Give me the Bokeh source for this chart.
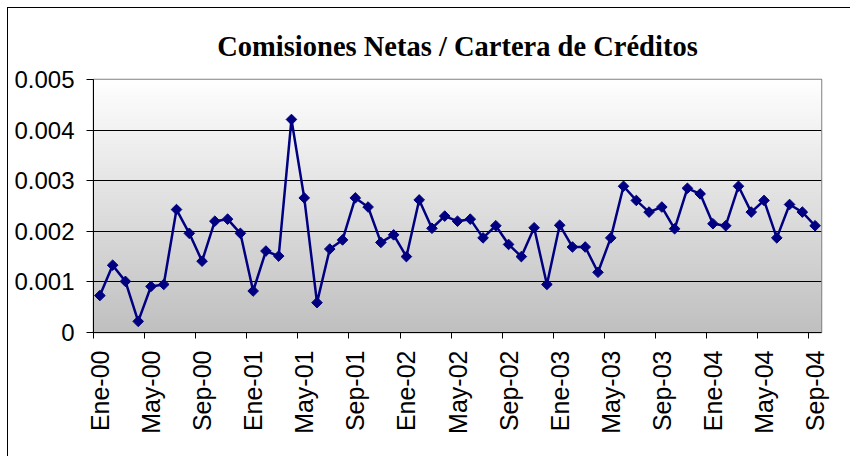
import numpy as np
from bokeh.plotting import figure
from bokeh.models import FixedTicker, Range1d
from bokeh.embed import file_html
from bokeh.resources import INLINE

# ---- data ----
months = ["Ene", "Feb", "Mar", "Abr", "May", "Jun", "Jul", "Ago", "Sep", "Oct", "Nov", "Dic"]
years = ["00", "01", "02", "03", "04"]
categories = [f"{m}-{y}" for y in years for m in months][:57]  # Ene-00 .. Sep-04

values = [
    0.00073, 0.00133, 0.00101, 0.00022, 0.00091, 0.00095, 0.00243, 0.00196, 0.00141, 0.00220,
    0.00224, 0.00196, 0.00082, 0.00161, 0.00151, 0.00421, 0.00266, 0.00059, 0.00165, 0.00183,
    0.00266, 0.00248, 0.00178, 0.00193, 0.00150, 0.00262, 0.00206, 0.00230, 0.00220, 0.00224,
    0.00187, 0.00211, 0.00174, 0.00150, 0.00207, 0.00095, 0.00212, 0.00169, 0.00169, 0.00119,
    0.00187, 0.00289, 0.00261, 0.00238, 0.00248, 0.00205, 0.00285, 0.00274, 0.00215, 0.00211,
    0.00289, 0.00238, 0.00261, 0.00187, 0.00253, 0.00238, 0.00211,
]

y_ticks = [0.0, 0.001, 0.002, 0.003, 0.004, 0.005]
y_tick_labels = ["0", "0.001", "0.002", "0.003", "0.004", "0.005"]
title_text = "Comisiones Netas / Cartera de Créditos"

n = len(values)
x = list(range(n))
label_step = 4

W, H = 843, 449
p = figure(width=W, height=H, output_backend="svg", toolbar_location=None,
           x_range=Range1d(-0.5, n - 0.5), y_range=Range1d(y_ticks[0], y_ticks[-1]),
           min_border_left=85, min_border_right=30, min_border_top=71, min_border_bottom=125,
           title=title_text)
p.styles = {"border-top": "1px solid black", "border-left": "1px solid black",
            "margin-left": "7px", "margin-top": "7px"}

p.title.align = "center"
p.title.text_font = "Liberation Serif"
p.title.text_font_style = "bold"
p.title.text_font_size = "28.5px"
p.title.text_color = "black"
p.title.standoff = 36

p.background_fill_color = "white"
p.border_fill_color = "white"
p.outline_line_color = "#808080"
p.outline_line_width = 1.5

# gradient plot-area background
rows = 200
shade = np.linspace(192, 255, rows).astype(np.uint32)
img = np.empty((rows, 1), dtype=np.uint32)
view = img.view(dtype=np.uint8).reshape((rows, 1, 4))
view[:, 0, 0] = shade
view[:, 0, 1] = shade
view[:, 0, 2] = shade
view[:, 0, 3] = 255
p.image_rgba(image=[img], x=-0.5, y=y_ticks[0], dw=n, dh=y_ticks[-1] - y_ticks[0], level="image")

# gridlines
p.xgrid.visible = False
p.ygrid.ticker = FixedTicker(ticks=y_ticks[1:-1])
p.ygrid.grid_line_color = "black"
p.ygrid.grid_line_width = 1
p.ygrid.level = "underlay"

# data
p.line(x, values, line_color="#000080", line_width=2.5)
p.scatter(x, values, marker="square", angle=np.pi / 4, size=7.5,
          fill_color="#000080", line_color="#000080")

# y axis
p.yaxis.ticker = FixedTicker(ticks=y_ticks)
p.yaxis.major_label_overrides = {t: l for t, l in zip(y_ticks, y_tick_labels)}
p.yaxis.major_label_text_font = "Liberation Sans"
p.yaxis.major_label_text_font_size = "24px"
p.yaxis.major_label_text_color = "black"
p.yaxis.axis_line_color = "black"
p.yaxis.axis_line_width = 1
p.yaxis.major_tick_out = 7
p.yaxis.major_tick_in = 0
p.yaxis.minor_tick_line_color = None
p.yaxis.major_label_standoff = 12

# x axis
label_pos = list(range(0, n, label_step))
boundary_pos = [i - 0.5 for i in range(0, n, label_step)]
p.xaxis.ticker = FixedTicker(ticks=label_pos, minor_ticks=boundary_pos)
p.xaxis.major_label_overrides = {i: categories[i] for i in label_pos}
p.xaxis.major_label_orientation = np.pi / 2
p.xaxis.major_label_text_font = "Liberation Sans"
p.xaxis.major_label_text_font_size = "25px"
p.xaxis.major_label_text_color = "black"
p.xaxis.major_tick_out = 0
p.xaxis.major_tick_in = 0
p.xaxis.minor_tick_out = 6
p.xaxis.minor_tick_in = 0
p.xaxis.minor_tick_line_color = "black"
p.xaxis.axis_line_color = "black"
p.xaxis.major_label_standoff = 12

open("out.html", "w").write(file_html(p, INLINE))
